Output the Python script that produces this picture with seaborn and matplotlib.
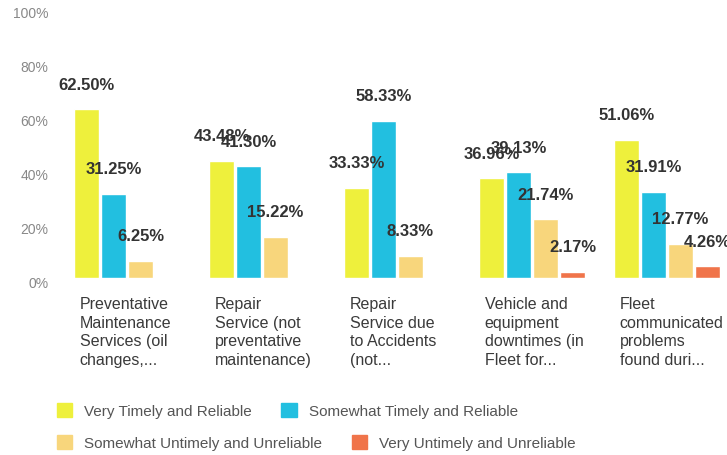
import pandas as pd
import matplotlib
matplotlib.use("Agg")
import matplotlib.pyplot as plt
import matplotlib.patches as mpatches
import matplotlib.transforms as mtransforms
from matplotlib.ticker import FuncFormatter
import seaborn as sns

sns.set_theme(style="white")
plt.rcParams["font.family"] = ["Liberation Sans", "DejaVu Sans"]

# --- data -----------------------------------------------------------------
categories = [
    "Preventative\nMaintenance\nServices (oil\nchanges,...",
    "Repair\nService (not\npreventative\nmaintenance)",
    "Repair\nService due\nto Accidents\n(not...",
    "Vehicle and\nequipment\ndowntimes (in\nFleet for...",
    "Fleet\ncommunicated\nproblems\nfound duri...",
]
ratings = [
    "Very Timely and Reliable",
    "Somewhat Timely and Reliable",
    "Somewhat Untimely and Unreliable",
    "Very Untimely and Unreliable",
]
very_timely = [62.50, 43.48, 33.33, 36.96, 51.06]
somewhat_timely = [31.25, 41.30, 58.33, 39.13, 31.91]
somewhat_untimely = [6.25, 15.22, 8.33, 21.74, 12.77]
very_untimely = [0, 0, 0, 2.17, 4.26]
colors = ["#eef03c", "#22bfe0", "#f8d67c", "#f0744a"]

series = [very_timely, somewhat_timely, somewhat_untimely, very_untimely]
rows = []
for r, vals in zip(ratings, series):
    for c, v in zip(categories, vals):
        rows.append({"category": c, "rating": r, "value": v})
df = pd.DataFrame(rows)

# --- figure ------------------------------------------------------------------
W, H = 727, 455
fig = plt.figure(figsize=(W / 100, H / 100), dpi=100)
ax = fig.add_axes([59.5 / W, (H - 278) / H, (W - 59.5) / W, 270 / H])

sns.barplot(data=df, x="category", y="value", hue="rating",
            order=categories, hue_order=ratings, palette=colors,
            width=0.8, gap=0.07, saturation=1, legend=False, ax=ax)

for cont, vals in zip(ax.containers, series):
    ax.bar_label(cont, labels=[f"{v:.2f}%" if v > 0 else "" for v in vals],
                 padding=12, fontsize=12, fontweight="bold", color="#333333")

ax.set_ylim(0, 100)
ax.set_xlim(-0.5, -0.5 + (W - 59.5) / 135)
ax.set_yticks(range(0, 101, 20))
ax.yaxis.set_major_formatter(FuncFormatter(lambda v, _: f"{v:.0f}%"))
ax.tick_params(axis="y", length=0, pad=8, labelsize=10, labelcolor="#888888")
off = mtransforms.ScaledTranslation(0, -3 / 72, fig.dpi_scale_trans)
for lab in ax.get_yticklabels():
    lab.set_transform(lab.get_transform() + off)
ax.set_xticks([])
ax.set_xlabel("")
ax.set_ylabel("")
for s in ax.spines.values():
    s.set_visible(False)

# category labels, left aligned under each group
trans = mtransforms.blended_transform_factory(ax.transData, ax.transAxes)
for i, name in enumerate(categories):
    ax.text(i - 0.35, -19 / 270, name, transform=trans, ha="left", va="top",
            fontsize=11.5, color="#3a3a3a", linespacing=1.3)

# legend: two flow rows
handles = [mpatches.Patch(color=c, label=r) for c, r in zip(colors, ratings)]
for k, yc in enumerate([411, 443]):
    fig.legend(handles=handles[2 * k:2 * k + 2], ncol=2, loc="center left",
               bbox_to_anchor=(57 / W, (H - yc) / H), frameon=False,
               fontsize=11, labelcolor="#555555", handlelength=1.0,
               handleheight=1.0, handletextpad=0.8, columnspacing=1.9,
               borderpad=0, borderaxespad=0)

fig.savefig("out.png", dpi=100, facecolor="white")
